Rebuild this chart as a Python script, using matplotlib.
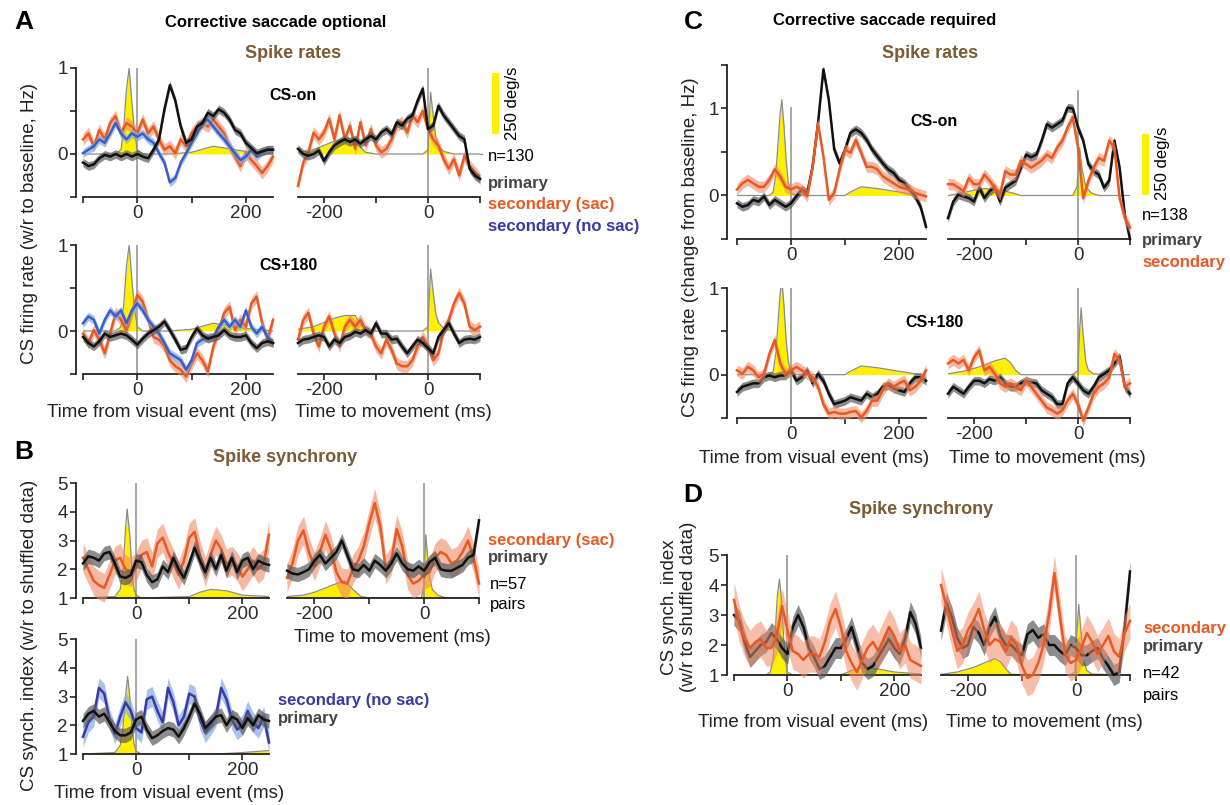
import numpy as np
import matplotlib
matplotlib.use('Agg')
import matplotlib.pyplot as plt
from matplotlib.patches import Rectangle

plt.rcParams['font.family'] = ['Liberation Sans', 'DejaVu Sans']

# colours
BLACK = '#111111'
BLACK_BAND = '#5c5c5c'
ORANGE = '#e85a23'
ORANGE_BAND = '#ef8a66'
BLUE = '#3a5fc4'
BLUE_BAND = '#85a9e3'
INDIGO = '#3a3aa6'
YELLOW = '#fff000'
BROWN = '#7b5a34'
LAB_GRAY = '#454545'

# time axes (ms)
t_vis = list(range(-100, 251, 10))
t_mov = list(range(-250, 101, 10))

# ---- A: corrective saccade optional, spike rates (Hz, change from baseline)
a_on_vis_pri = [-0.10, -0.14, -0.12, -0.05, -0.01, -0.03, 0.00, -0.03, 0.00, -0.03, 0.00, -0.03,
                -0.05, 0.05, 0.17, 0.52, 0.80, 0.62, 0.32, 0.13, 0.17, 0.32, 0.36, 0.48, 0.44, 0.52,
                0.48, 0.40, 0.28, 0.24, 0.13, 0.07, 0.01, 0.03, 0.05, 0.05]
a_on_vis_sac = [0.17, 0.24, 0.09, 0.28, 0.17, 0.36, 0.44, 0.24, 0.36, 0.32, 0.24, 0.40, 0.24, 0.32,
                0.17, 0.05, 0.09, 0.01, 0.17, 0.09, 0.24, 0.32, 0.36, 0.32, 0.40, 0.32, 0.24, 0.09,
                -0.03, -0.14, 0.01, -0.07, -0.14, -0.22, -0.14, -0.03]
a_on_vis_nosac = [0.01, 0.05, 0.09, 0.17, 0.13, 0.24, 0.36, 0.24, 0.17, 0.24, 0.20, 0.24, 0.17, 0.13,
                  0.01, -0.10, -0.33, -0.28, -0.10, 0.01, 0.13, 0.24, 0.36, 0.40, 0.32, 0.24, 0.17,
                  0.09, 0.01, -0.07, -0.03, 0.05, -0.03, 0.03, 0.05, 0.05]
a_on_mov_pri = [0.06, 0.00, -0.02, 0.00, 0.04, -0.08, 0.02, 0.10, 0.14, 0.17, 0.14, 0.17, 0.12, 0.17,
                0.21, 0.17, 0.25, 0.29, 0.23, 0.37, 0.33, 0.41, 0.45, 0.62, 0.76, 0.29, 0.33, 0.56,
                0.45, 0.37, 0.29, 0.21, 0.17, -0.17, -0.25, -0.29]
a_on_mov_sac = [-0.37, -0.10, 0.02, 0.25, 0.17, 0.25, 0.41, 0.17, 0.45, 0.17, 0.33, 0.06, 0.37, 0.10,
                0.29, 0.10, 0.02, 0.06, 0.17, 0.33, 0.37, 0.25, 0.45, 0.37, 0.50, 0.29, 0.17, 0.10,
                -0.06, -0.17, -0.06, -0.25, -0.02, -0.14, -0.21, -0.29]
a_180_vis_pri = [-0.07, -0.14, -0.18, -0.12, -0.03, -0.07, -0.05, -0.03, -0.05, -0.10, -0.16, -0.09,
                 -0.03, 0.01, 0.05, 0.11, 0.01, -0.10, -0.22, -0.20, -0.07, 0.03, -0.05, -0.09, -0.07,
                 -0.05, 0.01, -0.05, -0.07, -0.07, -0.05, -0.14, -0.20, -0.14, -0.12, -0.14]
a_180_vis_sac = [-0.03, -0.14, 0.01, -0.10, -0.26, -0.03, 0.21, 0.13, 0.01, 0.21, 0.42, 0.34, 0.13,
                 -0.07, -0.10, -0.18, -0.34, -0.41, -0.45, -0.53, -0.38, -0.26, -0.34, -0.47, -0.18,
                 0.01, 0.21, 0.28, 0.01, 0.13, 0.05, 0.32, 0.40, 0.09, -0.10, 0.13]
a_180_vis_nosac = [0.09, 0.17, 0.13, -0.03, 0.13, 0.24, 0.17, 0.24, 0.09, 0.24, 0.32, 0.24, 0.13, 0.05,
                   -0.03, -0.14, -0.26, -0.30, -0.34, -0.45, -0.34, -0.14, -0.10, -0.07, -0.07, 0.05,
                   0.13, 0.05, 0.13, 0.05, 0.24, 0.05, -0.03, 0.05, -0.07, -0.14]
a_180_mov_pri = [-0.14, -0.10, -0.09, -0.07, -0.05, -0.07, -0.18, -0.10, -0.14, -0.07, -0.05, -0.01,
                 -0.03, 0.01, -0.03, 0.09, -0.03, -0.03, -0.10, -0.09, -0.18, -0.26, -0.18, -0.10,
                 -0.14, -0.20, -0.26, -0.07, 0.01, 0.09, -0.03, -0.14, -0.10, -0.09, -0.10, -0.07]
a_180_mov_sac = [-0.10, 0.13, 0.21, -0.03, -0.18, 0.05, 0.17, -0.03, -0.18, 0.05, 0.13, 0.05, 0.13,
                 0.01, -0.03, -0.18, -0.26, -0.10, -0.22, -0.38, -0.41, -0.41, -0.34, -0.18, -0.07,
                 -0.18, -0.34, -0.26, 0.01, 0.13, 0.32, 0.44, 0.32, 0.05, 0.01, 0.05]
sem_a = {'pri': 0.05, 'sac': 0.07, 'nosac': 0.05}

# eye speed traces, drawn in the units of each axis
vel_a_vis_t = [-100, -40, -30, -25, -20, -15, -10, -5, 0, 10, 60, 100, 140, 200, 250]
vel_a_vis_v = [0, 0, 0.05, 0.3, 0.75, 1.0, 0.6, 0.25, 0.05, 0, 0, 0.02, 0.09, 0.03, 0]
vel_a_mov_t = [-250, -220, -200, -180, -160, -140, -130, -120, -100, -10, 0, 5, 10, 15, 20, 30, 50, 100]
vel_a_mov_v = [0.02, 0.05, 0.1, 0.15, 0.18, 0.18, 0.08, 0.02, 0, 0, 0.05, 0.72, 0.45, 0.2, 0.1, 0.03, 0, 0]

# ---- B: corrective saccade optional, synchrony index
b_vis_pri = [2.2, 2.45, 2.4, 2.3, 2.55, 2.6, 2.2, 1.75, 1.7, 1.8, 2.3, 2.25, 1.8, 1.55, 1.65, 2.1,
             1.9, 2.4, 2.0, 1.7, 2.2, 2.75, 2.3, 1.9, 2.4, 2.0, 2.5, 1.95, 2.4, 1.9, 2.3, 2.4, 2.0,
             2.3, 2.2, 2.15]
b_vis_sac = [2.4, 2.0, 1.6, 1.45, 1.35, 1.8, 2.3, 2.4, 2.0, 1.9, 2.1, 2.5, 2.6, 2.1, 2.9, 3.1, 2.6,
             2.2, 1.8, 2.3, 3.1, 3.3, 2.5, 1.9, 2.5, 3.0, 2.7, 2.2, 2.3, 2.1, 1.75, 2.0, 2.3, 2.0,
             2.2, 3.2]
b_mov_pri = [1.95, 1.85, 1.82, 1.9, 2.0, 2.3, 2.5, 2.2, 2.4, 2.6, 3.0, 2.5, 2.0, 1.95, 2.15, 1.95,
             2.3, 2.15, 1.95, 2.2, 2.55, 2.2, 2.0, 1.95, 2.1, 1.95, 2.25, 2.4, 2.0, 1.95, 1.95, 2.05,
             2.15, 2.4, 2.5, 3.7]
b_mov_sac = [1.7, 2.2, 3.0, 3.35, 2.6, 2.1, 2.6, 3.2, 2.7, 1.9, 1.55, 1.5, 2.0, 2.3, 2.8, 3.6, 4.3,
             3.5, 2.0, 2.3, 3.4, 2.8, 1.8, 1.5, 1.6, 1.8, 1.9, 2.4, 2.6, 2.5, 2.2, 2.3, 2.6, 3.0,
             2.4, 1.5]
b_nosac = [1.6, 2.1, 2.3, 3.3, 3.1, 2.2, 1.7, 2.3, 2.8, 2.5, 1.9, 1.75, 2.9, 3.0, 2.5, 2.1, 3.3,
           2.8, 2.0, 2.3, 3.1, 3.0, 2.2, 1.75, 2.0, 2.3, 3.3, 2.9, 2.2, 1.85, 2.0, 2.5, 2.1, 1.9,
           2.3, 1.4]
b_nosac_pri = [2.15, 2.4, 2.5, 2.3, 2.4, 2.1, 1.8, 1.65, 1.65, 1.75, 2.2, 2.3, 1.85, 1.55, 1.65,
               1.8, 1.9, 1.85, 1.6, 1.9, 2.3, 2.75, 2.4, 1.9, 2.1, 2.3, 2.35, 2.0, 2.3, 2.2, 1.9,
               2.25, 2.0, 2.35, 2.2, 2.15]
sem_b = {'pri': 0.25, 'sac': 0.5, 'nosac': 0.35}

vel_b_vis_t = [-100, -40, -30, -25, -20, -17, -12, -8, -4, 0, 10, 100, 120, 140, 170, 200, 250]
vel_b_vis_v = [0, 0.05, 0.3, 0.9, 2.4, 3.1, 2.2, 1.0, 0.3, 0.1, 0, 0.05, 0.2, 0.3, 0.25, 0.1, 0.05]
vel_b_mov_t = [-250, -220, -200, -180, -160, -145, -130, -115, -100, -5, 0, 3, 6, 10, 15, 25, 40, 100]
vel_b_mov_v = [0.05, 0.1, 0.2, 0.35, 0.5, 0.6, 0.3, 0.05, 0, 0, 0.5, 2.2, 1.5, 0.7, 0.3, 0.1, 0, 0]
vel_b_nosac_t = [-100, -40, -30, -25, -20, -16, -12, -8, -4, 0, 10, 150, 200, 250]
vel_b_nosac_v = [0, 0.05, 0.3, 0.9, 2.0, 2.7, 2.0, 1.0, 0.35, 0.1, 0, 0, 0.05, 0.12]

# ---- C: corrective saccade required, spike rates
c_on_vis_pri = [-0.09, -0.13, -0.11, -0.05, -0.07, -0.01, -0.11, -0.05, -0.09, -0.13, -0.09, -0.01,
                0.07, 0.03, 0.33, 0.83, 1.45, 1.10, 0.53, 0.37, 0.53, 0.72, 0.76, 0.72, 0.64, 0.53,
                0.45, 0.37, 0.30, 0.26, 0.18, 0.14, 0.07, -0.01, -0.13, -0.36]
c_on_vis_sac = [0.07, 0.14, 0.18, 0.14, 0.10, 0.10, 0.18, 0.30, 0.22, 0.10, 0.07, 0.10, 0.07, -0.01,
                0.33, 0.83, 0.45, -0.05, 0.03, 0.30, 0.53, 0.49, 0.64, 0.49, 0.33, 0.33, 0.30, 0.22,
                0.18, 0.14, 0.10, 0.08, 0.07, 0.03, 0.01, -0.01]
c_on_mov_pri = [-0.26, -0.07, 0.01, -0.01, -0.03, -0.07, 0.09, -0.03, 0.05, 0.09, -0.07, 0.09, 0.13,
                0.17, 0.32, 0.47, 0.44, 0.47, 0.63, 0.82, 0.78, 0.82, 0.86, 1.01, 1.00, 0.78, 0.63,
                0.36, 0.28, 0.24, 0.09, 0.17, 0.63, 0.32, -0.22, -0.50]
c_on_mov_sac = [0.13, 0.13, 0.09, 0.05, 0.20, 0.13, 0.13, 0.24, 0.17, 0.09, 0.01, 0.28, 0.24, 0.24,
                0.40, 0.36, 0.32, 0.36, 0.40, 0.47, 0.43, 0.55, 0.63, 0.78, 0.90, 0.55, -0.03, 0.17,
                0.32, 0.43, 0.40, 0.63, 0.55, -0.03, -0.26, -0.37]
c_180_vis_pri = [-0.20, -0.14, -0.12, -0.10, -0.10, -0.03, -0.01, -0.03, -0.01, -0.01, 0.05, -0.07,
                 -0.03, 0.05, -0.10, 0.01, -0.07, -0.22, -0.34, -0.32, -0.30, -0.26, -0.28, -0.30,
                 -0.22, -0.26, -0.22, -0.14, -0.12, -0.16, -0.18, -0.20, -0.10, -0.03, -0.03, -0.07]
c_180_vis_sac = [0.05, 0.01, 0.09, 0.05, -0.03, 0.01, 0.24, 0.40, 0.13, 0.01, 0.05, 0.09, 0.05, 0.01,
                 -0.03, -0.14, -0.34, -0.45, -0.43, -0.45, -0.45, -0.43, -0.42, -0.49, -0.42, -0.30,
                 -0.30, -0.18, -0.10, -0.14, -0.10, -0.07, -0.18, -0.14, -0.07, 0.05]
c_180_mov_pri = [-0.22, -0.14, -0.18, -0.22, -0.14, -0.07, -0.07, -0.10, -0.05, -0.07, -0.03, -0.10,
                 -0.14, -0.14, -0.10, -0.07, -0.09, -0.10, -0.18, -0.22, -0.26, -0.34, -0.34, -0.10,
                 -0.03, -0.10, -0.18, -0.22, -0.14, -0.03, 0.01, 0.05, 0.13, 0.21, -0.14, -0.22]
c_180_mov_sac = [0.13, 0.17, 0.13, 0.17, 0.05, 0.20, 0.28, 0.05, 0.09, 0.01, -0.10, -0.14, -0.10,
                 -0.14, -0.18, -0.07, -0.14, -0.22, -0.30, -0.38, -0.41, -0.45, -0.41, -0.30, -0.22,
                 -0.34, -0.53, -0.38, -0.22, -0.14, -0.10, -0.03, 0.24, 0.16, -0.14, -0.10]
sem_c = {'pri': 0.05, 'sac': 0.065}

vel_c_vis_t = [-100, -40, -33, -28, -24, -20, -17, -13, -9, -5, 0, 10, 100, 110, 130, 160, 200, 230, 250]
vel_c_vis_v = [0, 0, 0.04, 0.25, 0.6, 0.95, 1.1, 0.8, 0.4, 0.15, 0.03, 0, 0, 0.04, 0.1, 0.08, 0.04, 0.01, 0]
vel_c_on_mov_t = [-250, -230, -200, -180, -160, -140, -120, -110, -10, -2, 3, 8, 15, 25, 40, 100]
vel_c_on_mov_v = [0, 0.02, 0.06, 0.08, 0.07, 0.05, 0.02, 0, 0, 0.1, 0.55, 0.3, 0.1, 0.03, 0, 0]
vel_c_180_mov_t = [-250, -220, -190, -160, -140, -130, -120, -110, -10, 0, 3, 6, 10, 15, 20, 30, 50, 100]
vel_c_180_mov_v = [0.01, 0.04, 0.09, 0.16, 0.19, 0.14, 0.05, 0, 0, 0.05, 0.5, 0.77, 0.45, 0.15, 0.05, 0.01, 0, 0]

# ---- D: corrective saccade required, synchrony index
d_vis_pri = [3.0, 2.8, 2.1, 1.6, 1.8, 2.0, 2.1, 2.4, 2.2, 1.9, 1.7, 2.6, 3.0, 2.6, 1.9, 1.6, 1.2,
             1.3, 1.6, 1.9, 1.9, 2.2, 2.6, 2.0, 1.4, 1.2, 1.3, 1.6, 1.9, 2.2, 1.9, 1.7, 2.2, 3.1,
             2.7, 1.9]
d_vis_sac = [3.5, 2.7, 2.2, 1.9, 2.1, 2.2, 1.9, 1.9, 2.3, 3.3, 2.5, 1.8, 1.7, 1.5, 1.7, 1.7, 1.6,
             2.1, 2.8, 3.2, 2.6, 1.8, 1.4, 1.1, 1.5, 1.9, 2.1, 1.8, 2.2, 2.6, 2.3, 1.8, 2.0, 1.5,
             1.4, 1.3]
d_mov_pri = [2.48, 3.4, 2.94, 2.24, 1.9, 2.0, 2.6, 2.4, 2.0, 2.6, 2.94, 2.3, 2.0, 2.0, 1.8, 1.66,
             2.36, 2.5, 2.24, 2.36, 2.0, 2.0, 1.8, 1.66, 2.0, 1.9, 1.66, 1.66, 1.8, 1.9, 1.55, 1.3,
             1.0, 1.1, 2.6, 4.45]
d_mov_sac = [4.0, 3.3, 2.5, 1.8, 2.0, 2.5, 2.8, 3.2, 2.5, 2.0, 2.2, 2.1, 1.8, 2.24, 2.0, 1.3, 0.9,
             1.0, 1.4, 2.0, 3.0, 4.4, 3.0, 1.7, 1.4, 1.5, 1.9, 2.4, 2.1, 1.7, 2.0, 2.3, 1.8, 1.6,
             2.4, 2.8]
sem_d = {'pri': 0.35, 'sac': 0.6}

vel_d_vis_t = [-100, -40, -32, -27, -23, -19, -15, -11, -7, -3, 0, 10, 100, 120, 140, 170, 200, 250]
vel_d_vis_v = [0, 0, 0.1, 0.5, 1.4, 2.6, 3.2, 2.5, 1.2, 0.4, 0.1, 0, 0, 0.15, 0.25, 0.2, 0.1, 0.03]
vel_d_mov_t = [-250, -220, -190, -170, -150, -140, -130, -120, -10, -2, 2, 5, 9, 14, 20, 30, 100]
vel_d_mov_v = [0.02, 0.1, 0.25, 0.4, 0.55, 0.45, 0.2, 0.02, 0, 0.1, 1.5, 2.35, 1.5, 0.5, 0.15, 0.03, 0]

# ------------------------------------------------------------------ drawing
W, H = 1230, 805
fig = plt.figure(figsize=(W / 100, H / 100), dpi=100)


def add_ax(x0, x1, xlim, ybot, ytop, ylim):
    # place axes so that the x/y limits land on the given pixel positions
    ax = fig.add_axes([x0 / W, 1 - ybot / H, (x1 - x0) / W, (ybot - ytop) / H])
    ax.set_xlim(xlim)
    ax.set_ylim(ylim)
    ax.patch.set_alpha(0)
    for s in ('top', 'right'):
        ax.spines[s].set_visible(False)
    ax.spines['bottom'].set_bounds(*xlim)
    for s in ('bottom', 'left'):
        ax.spines[s].set_linewidth(1.3)
        ax.spines[s].set_color('#222222')
    ax.tick_params(direction='out', length=4.5, width=1.2, labelsize=13.5, pad=1.5,
                   colors='#222222', labelcolor='#2a2a2a')
    if xlim[0] < -150:
        ax.set_xticks([-200, -100, 0, 100], ['-200', '', '0', ''])
    else:
        ax.set_xticks([-100, 0, 100, 200], ['', '0', '', '200'])
    return ax


def left_axis(ax, ticks, labels, offset):
    ax.spines['left'].set_position(('outward', offset))
    ax.spines['left'].set_bounds(ticks[0], ticks[-1])
    ax.set_yticks(ticks, labels)


def no_left(ax):
    ax.spines['left'].set_visible(False)
    ax.set_yticks([])


def eye(ax, t, v, base):
    y = base + np.asarray(v, float)
    ax.fill_between(t, base, y, color=YELLOW, lw=0, zorder=1)
    ax.plot(t, y, color='#8c8c8c', lw=0.9, zorder=1.2)


def vline(ax, y0, y1):
    ax.plot([0, 0], [y0, y1], color='#8f8f8f', lw=1.1, zorder=1.5)


def trace(ax, t, y, sem, line, fill, alpha, z):
    y = np.asarray(y, float)
    ax.fill_between(t, y - sem, y + sem, color=fill, alpha=alpha, lw=0, zorder=z, clip_on=False)
    ax.plot(t, y, color=line, lw=1.8, zorder=z + 0.5, clip_on=False, solid_joinstyle='round')


def ftext(x, y, s, **kw):
    kw.setdefault('va', 'center')
    fig.text(x / W, 1 - y / H, s, **kw)


def scale_bar(x, y0, y1, w=7):
    fig.add_artist(Rectangle((x / W, 1 - y1 / H), w / W, (y1 - y0) / H,
                             transform=fig.transFigure, color=YELLOW, lw=0))


A_TICKS = [-0.5, 0, 0.5, 1]
A_LABS = ['', '0', '', '1']
S_TICKS = [1, 2, 3, 4, 5]
S_LABS = ['1', '2', '3', '4', '5']

# A top left
ax = add_ax(83, 273, (-100, 250), 197, 68, (-0.5, 1.0))
left_axis(ax, A_TICKS, A_LABS, 5)
eye(ax, vel_a_vis_t, vel_a_vis_v, 0)
vline(ax, -0.5, 1.0)
trace(ax, t_vis, a_on_vis_sac, sem_a['sac'], ORANGE, ORANGE_BAND, 0.6, 3)
trace(ax, t_vis, a_on_vis_nosac, sem_a['nosac'], BLUE, BLUE_BAND, 0.7, 4)
trace(ax, t_vis, a_on_vis_pri, sem_a['pri'], BLACK, BLACK_BAND, 0.7, 5)

# A top right
ax = add_ax(298, 480, (-250, 100), 197, 68, (-0.5, 1.0))
no_left(ax)
eye(ax, vel_a_mov_t, vel_a_mov_v, 0)
ax.plot([100, 103], [0, 0], color='#8c8c8c', lw=0.9, clip_on=False)
vline(ax, -0.5, 1.0)
trace(ax, t_mov, a_on_mov_sac, sem_a['sac'], ORANGE, ORANGE_BAND, 0.6, 3)
trace(ax, t_mov, a_on_mov_pri, sem_a['pri'], BLACK, BLACK_BAND, 0.7, 5)

# A bottom left
ax = add_ax(83, 273, (-100, 250), 374, 245, (-0.5, 1.0))
left_axis(ax, A_TICKS, A_LABS, 5)
eye(ax, vel_a_vis_t, vel_a_vis_v, 0)
vline(ax, -0.5, 1.0)
trace(ax, t_vis, a_180_vis_sac, sem_a['sac'], ORANGE, ORANGE_BAND, 0.6, 3)
trace(ax, t_vis, a_180_vis_nosac, sem_a['nosac'], BLUE, BLUE_BAND, 0.7, 4)
trace(ax, t_vis, a_180_vis_pri, sem_a['pri'], BLACK, BLACK_BAND, 0.7, 5)

# A bottom right
ax = add_ax(298, 480, (-250, 100), 374, 245, (-0.5, 1.0))
no_left(ax)
eye(ax, vel_a_mov_t, vel_a_mov_v, 0)
vline(ax, -0.5, 1.0)
trace(ax, t_mov, a_180_mov_sac, sem_a['sac'], ORANGE, ORANGE_BAND, 0.6, 3)
trace(ax, t_mov, a_180_mov_pri, sem_a['pri'], BLACK, BLACK_BAND, 0.7, 5)

# B top left
ax = add_ax(83, 269, (-100, 250), 598, 483, (1, 5))
left_axis(ax, S_TICKS, S_LABS, 5)
eye(ax, vel_b_vis_t, vel_b_vis_v, 1)
vline(ax, 1, 5)
trace(ax, t_vis, b_vis_sac, sem_b['sac'], ORANGE, ORANGE_BAND, 0.6, 3)
trace(ax, t_vis, b_vis_pri, sem_b['pri'], BLACK, BLACK_BAND, 0.7, 5)

# B top right
ax = add_ax(287, 479, (-250, 100), 598, 483, (1, 5))
no_left(ax)
eye(ax, vel_b_mov_t, vel_b_mov_v, 1)
vline(ax, 1, 5)
trace(ax, t_mov, b_mov_sac, sem_b['sac'], ORANGE, ORANGE_BAND, 0.6, 3)
trace(ax, t_mov, b_mov_pri, sem_b['pri'], BLACK, BLACK_BAND, 0.7, 5)

# B bottom
ax = add_ax(83, 269, (-100, 250), 754, 639, (1, 5))
left_axis(ax, S_TICKS, S_LABS, 5)
eye(ax, vel_b_nosac_t, vel_b_nosac_v, 1)
vline(ax, 1, 5)
trace(ax, t_vis, b_nosac, sem_b['nosac'], INDIGO, BLUE_BAND, 0.7, 3)
trace(ax, t_vis, b_nosac_pri, sem_b['pri'], BLACK, BLACK_BAND, 0.7, 5)

# C top left
ax = add_ax(737, 926, (-100, 250), 239, 65, (-0.5, 1.5))
left_axis(ax, [-0.5, 0, 0.5, 1, 1.5], ['', '0', '', '1', ''], 7)
eye(ax, vel_c_vis_t, vel_c_vis_v, 0)
vline(ax, -0.5, 1.0)
trace(ax, t_vis, c_on_vis_pri, sem_c['pri'], BLACK, BLACK_BAND, 0.7, 3)
trace(ax, t_vis, c_on_vis_sac, sem_c['sac'], ORANGE, ORANGE_BAND, 0.6, 5)

# C top right
ax = add_ax(948, 1130, (-250, 100), 239, 65, (-0.5, 1.5))
no_left(ax)
eye(ax, vel_c_on_mov_t, vel_c_on_mov_v, 0)
vline(ax, -0.5, 1.2)
trace(ax, t_mov, c_on_mov_pri, sem_c['pri'], BLACK, BLACK_BAND, 0.7, 3)
trace(ax, t_mov, c_on_mov_sac, sem_c['sac'], ORANGE, ORANGE_BAND, 0.6, 5)

# C bottom left
ax = add_ax(737, 926, (-100, 250), 418, 288, (-0.5, 1.0))
left_axis(ax, A_TICKS, A_LABS, 7)
eye(ax, vel_c_vis_t, vel_c_vis_v, 0)
vline(ax, -0.5, 1.0)
trace(ax, t_vis, c_180_vis_pri, sem_c['pri'], BLACK, BLACK_BAND, 0.7, 3)
trace(ax, t_vis, c_180_vis_sac, sem_c['sac'], ORANGE, ORANGE_BAND, 0.6, 5)

# C bottom right
ax = add_ax(948, 1130, (-250, 100), 418, 288, (-0.5, 1.0))
no_left(ax)
eye(ax, vel_c_180_mov_t, vel_c_180_mov_v, 0)
vline(ax, -0.5, 1.0)
trace(ax, t_mov, c_180_mov_pri, sem_c['pri'], BLACK, BLACK_BAND, 0.7, 3)
trace(ax, t_mov, c_180_mov_sac, sem_c['sac'], ORANGE, ORANGE_BAND, 0.6, 5)

# D left
ax = add_ax(734, 921, (-100, 250), 675, 555, (1, 5))
left_axis(ax, S_TICKS, S_LABS, 5)
eye(ax, vel_d_vis_t, vel_d_vis_v, 1)
vline(ax, 1, 5)
trace(ax, t_vis, d_vis_pri, sem_d['pri'], BLACK, BLACK_BAND, 0.7, 3)
trace(ax, t_vis, d_vis_sac, sem_d['sac'], ORANGE, ORANGE_BAND, 0.55, 5)

# D right
ax = add_ax(941, 1130, (-250, 100), 675, 555, (1, 5))
no_left(ax)
eye(ax, vel_d_mov_t, vel_d_mov_v, 1)
vline(ax, 1, 5)
trace(ax, t_mov, d_mov_pri, sem_d['pri'], BLACK, BLACK_BAND, 0.7, 3)
trace(ax, t_mov, d_mov_sac, sem_d['sac'], ORANGE, ORANGE_BAND, 0.55, 5)

# ------------------------------------------------------------------ text
bold = dict(fontweight='bold')
ftext(24, 22, 'A', fontsize=19, ha='center', **bold)
ftext(24, 452, 'B', fontsize=19, ha='center', **bold)
ftext(693, 22, 'C', fontsize=19, ha='center', **bold)
ftext(693, 495, 'D', fontsize=19, ha='center', **bold)

ftext(276, 22, 'Corrective saccade optional', fontsize=12, ha='center', **bold)
ftext(885, 20, 'Corrective saccade required', fontsize=12, ha='center', **bold)
ftext(293, 53, 'Spike rates', fontsize=13, ha='center', color=BROWN, **bold)
ftext(930, 53, 'Spike rates', fontsize=13, ha='center', color=BROWN, **bold)
ftext(285, 457, 'Spike synchrony', fontsize=13, ha='center', color=BROWN, **bold)
ftext(921, 509, 'Spike synchrony', fontsize=13, ha='center', color=BROWN, **bold)

ftext(293, 95, 'CS-on', fontsize=11.5, ha='center', **bold)
ftext(288, 265, 'CS+180', fontsize=11.5, ha='center', **bold)
ftext(934, 121, 'CS-on', fontsize=11.5, ha='center', **bold)
ftext(935, 322, 'CS+180', fontsize=11.5, ha='center', **bold)

# scale bars for eye speed
scale_bar(492, 73, 134)
ftext(513, 103, '250 deg/s', fontsize=12, ha='center', rotation=90)
scale_bar(1142, 134, 195)
ftext(1163, 163, '250 deg/s', fontsize=12, ha='center', rotation=90)

# legends as text
ftext(488, 156, 'n=130', fontsize=12, ha='left')
ftext(488, 183, 'primary', fontsize=12, ha='left', color=LAB_GRAY, **bold)
ftext(488, 205, 'secondary (sac)', fontsize=12, ha='left', color=ORANGE, **bold)
ftext(488, 226, 'secondary (no sac)', fontsize=12, ha='left', color=INDIGO, **bold)

ftext(488, 540, 'secondary (sac)', fontsize=12, ha='left', color=ORANGE, **bold)
ftext(488, 557, 'primary', fontsize=12, ha='left', color=LAB_GRAY, **bold)
ftext(490, 584, 'n=57', fontsize=12, ha='left')
ftext(490, 605, 'pairs', fontsize=12, ha='left')

ftext(278, 700, 'secondary (no sac)', fontsize=12, ha='left', color=INDIGO, **bold)
ftext(278, 718, 'primary', fontsize=12, ha='left', color=LAB_GRAY, **bold)

ftext(1142, 215, 'n=138', fontsize=12, ha='left')
ftext(1142, 240, 'primary', fontsize=12, ha='left', color=LAB_GRAY, **bold)
ftext(1142, 262, 'secondary', fontsize=12, ha='left', color=ORANGE, **bold)

ftext(1143, 628, 'secondary', fontsize=12, ha='left', color=ORANGE, **bold)
ftext(1143, 646, 'primary', fontsize=12, ha='left', color=LAB_GRAY, **bold)
ftext(1143, 673, 'n=42', fontsize=12, ha='left')
ftext(1143, 695, 'pairs', fontsize=12, ha='left')

# axis labels
XL = dict(fontsize=13.5, ha='center', color='#222222')
ftext(162, 412, 'Time from visual event (ms)', **XL)
ftext(393, 412, 'Time to movement (ms)', **XL)
ftext(392, 637, 'Time to movement (ms)', **XL)
ftext(169, 793, 'Time from visual event (ms)', **XL)
ftext(814, 458, 'Time from visual event (ms)', **XL)
ftext(1047, 458, 'Time to movement (ms)', **XL)
ftext(813, 722, 'Time from visual event (ms)', **XL)
ftext(1044, 722, 'Time to movement (ms)', **XL)

YL = dict(fontsize=13.5, ha='center', rotation=90, color='#222222')
ftext(30, 223, 'CS firing rate (w/r to baseline, Hz)', **YL)
ftext(30, 635, 'CS synch. index (w/r to shuffled data)', **YL)
ftext(690, 247, 'CS firing rate (change from baseline, Hz)', **YL)
ftext(679, 607, 'CS synch. index\n(w/r to shuffled data)', linespacing=1.1, **YL)

fig.savefig('out.png', dpi=100)
